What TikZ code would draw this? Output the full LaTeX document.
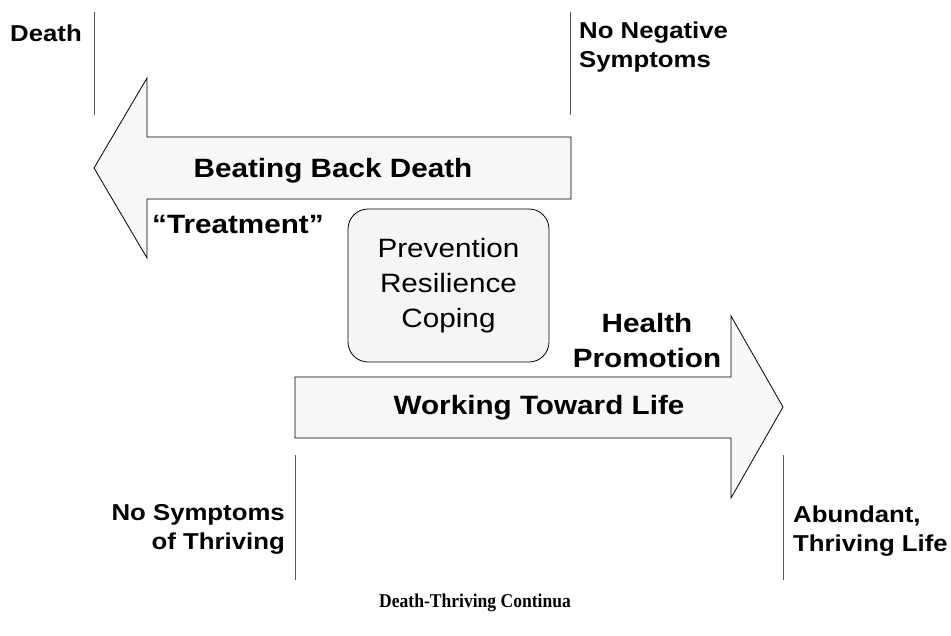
\documentclass[tikz,border=0pt]{standalone}
\usepackage{fontspec}
\setmainfont{Liberation Sans}[FakeStretch=1.12]
\newfontfamily\capfont{Liberation Serif}[FakeStretch=0.9]
\tikzset{
  bigarrow/.style = {draw = black, fill = black!3, line width = .8pt, line join = miter},
  endline/.style = {draw = black!65, line width = 1pt},
  endlabel/.style = {font = \fontsize{23}{29}\selectfont\bfseries, inner sep = 0pt},
  arrowlabel/.style = {font = \fontsize{26.5}{35}\selectfont\bfseries, inner sep = 0pt},
  ppbox/.style = {draw = black, fill = black!4, line width = .8pt, rounded corners = 20pt,
    font = \fontsize{26.5}{35}\selectfont, align = center, inner sep = 0pt}
}
\begin{document}
\begin{tikzpicture}[x = 1pt, y = -1pt]
      \useasboundingbox (0,0) rectangle (951,635);
      % end marks of the two continua
      \draw [endline] (94,12) -- (94,115);
      \draw [endline] (570,12) -- (570,115);
      \draw [endline] (295,455) -- (295,580);
      \draw [endline] (783,455) -- (783,580);
      % the two arrows
      \draw [bigarrow] (571,137) -- (147,137) -- (147,78) -- (94,168) -- (147,258) -- (147,199) -- (571,199) -- cycle;
      \draw [bigarrow] (295,377) -- (731,377) -- (731,316) -- (783,407) -- (731,498) -- (731,438) -- (295,438) -- cycle;
      \node [ppbox, minimum width = 201pt, minimum height = 153pt] (prc) at (448.5,285.5) {Prevention\\Resilience\\Coping};
      % labels
      \node [endlabel, anchor = base east] (death) at (82,41) {Death};
      \node [endlabel, anchor = west, align = left] (nonegative) at (579,47) {No Negative\\Symptoms};
      \node [endlabel, anchor = east, align = right] (nothriving) at (285,529.5) {No Symptoms\\of Thriving};
      \node [endlabel, anchor = west, align = left] (abundant) at (793,531) {Abundant,\\Thriving Life};
      \node [arrowlabel, anchor = base] (beating) at (333,177) {Beating Back Death};
      \node [arrowlabel, anchor = base west] (treatment) at (152,233) {“Treatment”};
      \node [arrowlabel, align = center] (promotion) at (647,341) {Health\\Promotion};
      \node [arrowlabel, anchor = base] (working) at (539,414) {Working Toward Life};
      \node [font = \capfont\fontsize{19.5}{23}\selectfont\bfseries, anchor = base] (caption) at (475,607) {Death-Thriving Continua};
    \end{tikzpicture}
\end{document}
